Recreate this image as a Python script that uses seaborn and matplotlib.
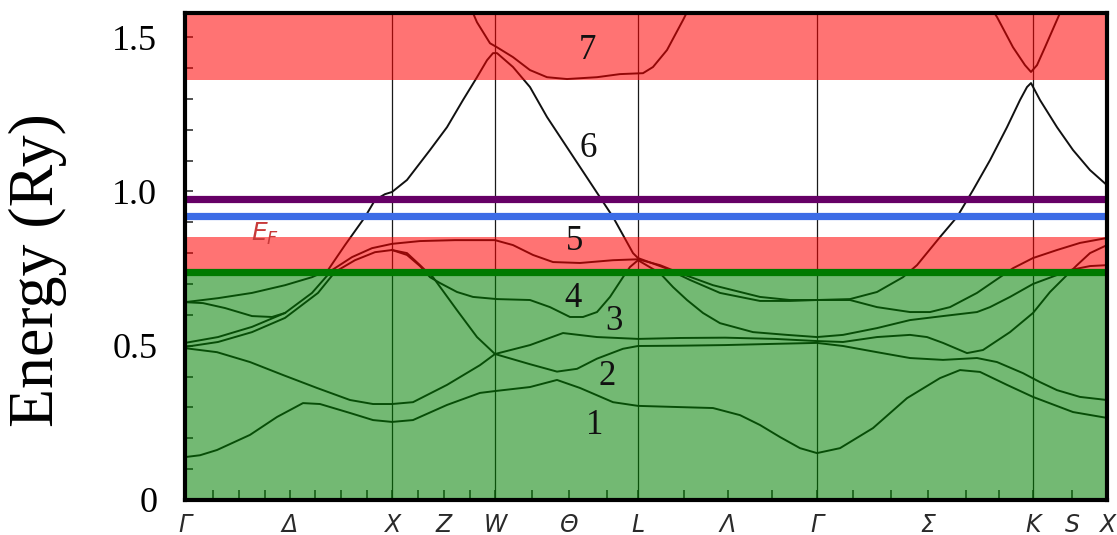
import numpy as np
import pandas as pd
import matplotlib
matplotlib.use("Agg")
import matplotlib.pyplot as plt
import seaborn as sns

# ---------------- data (k along path, E in Ry) ----------------
sym_k = [0.0, 1.05, 2.07, 2.59, 3.10, 3.84, 4.53, 5.43, 6.32, 7.43, 8.48, 8.87, 9.22]
sym_labels = ["Γ", "Δ", "X", "Z", "W", "Θ", "L", "Λ", "Γ", "Σ", "K", "S", "X"]
vline_k = [2.07, 3.10, 4.53, 6.32, 8.48]
minor_k = [0.28, 0.54, 0.80, 1.30, 1.56, 1.82, 2.33, 2.85, 3.47, 4.22, 4.99,
           5.87, 6.68, 7.06, 7.81, 8.14]

band1_k = [0, 0.15, 0.32, 0.65, 0.92, 1.18, 1.35, 1.65, 1.88, 2.07, 2.28, 2.62, 2.95,
           3.10, 3.45, 3.72, 3.95, 4.28, 4.53, 4.95, 5.28, 5.55, 5.75, 5.95, 6.15,
           6.32, 6.55, 6.88, 7.22, 7.55, 7.75, 7.95, 8.22, 8.48, 8.88, 9.22]
band1_E = [0.139, 0.145, 0.162, 0.211, 0.269, 0.314, 0.311, 0.282, 0.259, 0.253, 0.259,
           0.308, 0.347, 0.353, 0.366, 0.389, 0.363, 0.317, 0.305, 0.301, 0.298, 0.275,
           0.243, 0.204, 0.168, 0.152, 0.168, 0.233, 0.330, 0.395, 0.421, 0.415, 0.373,
           0.334, 0.285, 0.266]

band2_k = [0, 0.32, 0.65, 0.98, 1.32, 1.65, 1.88, 2.07, 2.28, 2.62, 2.95, 3.10, 3.45,
           3.72, 3.92, 4.12, 4.38, 4.53, 4.95, 5.40, 5.90, 6.32, 6.58, 6.92, 7.25, 7.58,
           7.92, 8.12, 8.38, 8.55, 8.72, 8.95, 9.22]
band2_E = [0.492, 0.479, 0.447, 0.405, 0.363, 0.324, 0.311, 0.311, 0.317, 0.373, 0.437,
           0.473, 0.440, 0.416, 0.425, 0.458, 0.490, 0.499, 0.500, 0.502, 0.506, 0.509,
           0.499, 0.479, 0.460, 0.454, 0.460, 0.447, 0.411, 0.382, 0.356, 0.334, 0.324]

band3_k = [0, 0.33, 0.67, 1.00, 1.27, 1.47, 1.67, 1.87, 2.07, 2.35, 2.70, 3.10, 3.28,
           3.48, 3.68, 3.95, 4.28, 4.53, 4.75, 4.95, 5.28, 5.75, 6.05, 6.32, 6.65, 6.92,
           7.18, 7.32, 7.55, 7.72, 7.88, 8.05, 8.22, 8.35, 8.42, 8.46, 8.55, 8.72, 8.88,
           9.05, 9.22]
band3_E = [0.509, 0.528, 0.561, 0.606, 0.671, 0.745, 0.787, 0.816, 0.830, 0.839, 0.842,
           0.842, 0.826, 0.794, 0.771, 0.768, 0.777, 0.780, 0.761, 0.735, 0.696, 0.658,
           0.648, 0.648, 0.651, 0.674, 0.722, 0.761, 0.852, 0.917, 1.004, 1.101, 1.208,
           1.296, 1.338, 1.351, 1.296, 1.208, 1.134, 1.069, 1.020]

band4_k = [0, 0.33, 0.67, 1.00, 1.33, 1.50, 1.70, 1.90, 2.07, 2.22, 2.35, 2.42, 2.48,
           2.72, 2.92, 3.10, 3.45, 3.78, 4.12, 4.53, 4.95, 5.40, 5.90, 6.32, 6.58, 6.92,
           7.25, 7.42, 7.58, 7.82, 7.98, 8.25, 8.48, 8.65, 8.82, 8.92, 9.05, 9.22]
band4_E = [0.496, 0.512, 0.544, 0.590, 0.671, 0.739, 0.777, 0.803, 0.810, 0.800, 0.761,
           0.739, 0.722, 0.615, 0.528, 0.473, 0.502, 0.541, 0.528, 0.522, 0.525, 0.526,
           0.522, 0.515, 0.512, 0.528, 0.535, 0.528, 0.509, 0.476, 0.486, 0.544, 0.606,
           0.674, 0.729, 0.761, 0.800, 0.826]

band5_k = [0, 0.18, 0.40, 0.67, 0.87, 1.00]
band5_E = [0.641, 0.638, 0.622, 0.596, 0.593, 0.606]

band6_k = [0, 0.33, 0.67, 1.00, 1.27, 1.43, 1.60, 1.80, 1.90, 2.00, 2.07, 2.22, 2.45,
           2.62, 2.78, 2.92, 3.02, 3.08, 3.12, 3.28, 3.45, 3.62, 3.95, 4.28, 4.48, 4.53,
           4.80, 5.05, 5.35, 5.75, 6.05, 6.32, 6.65, 6.92, 7.25, 7.45, 7.65, 7.92, 8.15,
           8.28, 8.48, 8.72, 8.95, 9.22]
band6_E = [0.641, 0.654, 0.671, 0.696, 0.722, 0.745, 0.826, 0.917, 0.972, 0.991, 0.998,
           1.037, 1.134, 1.208, 1.296, 1.370, 1.425, 1.448, 1.448, 1.403, 1.338, 1.241,
           1.079, 0.917, 0.800, 0.784, 0.752, 0.713, 0.671, 0.645, 0.645, 0.648, 0.648,
           0.625, 0.609, 0.609, 0.625, 0.671, 0.722, 0.751, 0.784, 0.810, 0.833, 0.849]

band7_k = [2.07, 2.22, 2.35, 2.45, 2.55, 2.72, 2.88, 3.12, 3.45, 3.65, 3.85, 3.98, 4.12,
           4.25, 4.38, 4.45, 4.53, 4.75, 4.88, 5.02, 5.18, 5.35, 5.68, 6.02, 6.32, 6.58,
           6.92, 7.25, 7.58, 7.92, 8.05, 8.25, 8.48, 8.72, 8.85, 9.05, 9.22]
band7_E = [0.810, 0.794, 0.758, 0.722, 0.703, 0.674, 0.658, 0.651, 0.648, 0.625, 0.593,
           0.593, 0.609, 0.658, 0.722, 0.755, 0.777, 0.735, 0.690, 0.648, 0.606, 0.573,
           0.544, 0.535, 0.528, 0.535, 0.557, 0.583, 0.596, 0.609, 0.625, 0.658, 0.700,
           0.729, 0.745, 0.758, 0.761]

band8_k = [2.85, 2.92, 3.05, 3.12, 3.28, 3.45, 3.62, 3.82, 4.12, 4.35, 4.58, 4.68, 4.82,
           4.98, 5.05]
band8_E = [1.600, 1.548, 1.480, 1.467, 1.435, 1.393, 1.370, 1.364, 1.370, 1.380, 1.383,
           1.403, 1.458, 1.555, 1.600]

band9_k = [8.05, 8.12, 8.28, 8.40, 8.46, 8.52, 8.60, 8.75, 8.80]
band9_E = [1.600, 1.565, 1.467, 1.409, 1.387, 1.409, 1.467, 1.578, 1.600]

band_numbers = ["7", "6", "5", "4", "3", "2", "1"]
number_k = [4.02, 4.03, 3.90, 3.88, 4.29, 4.22, 4.10]
number_E = [1.458, 1.140, 0.838, 0.654, 0.580, 0.400, 0.240]

red_bands = [(1.36, 1.62), (0.745, 0.852)]
green_fill = (0.0, 0.739)
level_lines = [0.975, 0.920, 0.739]
level_colors = ["#660066", "#3C6CE6", "#007A00"]

# ---------------- build long table ----------------
bands = [(band1_k, band1_E), (band2_k, band2_E), (band3_k, band3_E), (band4_k, band4_E),
         (band5_k, band5_E), (band6_k, band6_E), (band7_k, band7_E), (band8_k, band8_E),
         (band9_k, band9_E)]
frames = []
for i, (kk, ee) in enumerate(bands):
    frames.append(pd.DataFrame({"k": kk, "E": ee, "band": i}))
df = pd.concat(frames, ignore_index=True)

# ---------------- plot ----------------
fig = plt.figure(figsize=(11.17, 5.35), dpi=100)
ax = fig.add_axes([185 / 1117, 35 / 535, 922 / 1117, 487 / 535])
ax.set_axisbelow(True)

for kv in vline_k:
    ax.axvline(kv, color="#1a1a1a", lw=0.9, zorder=1)

sns.lineplot(data=df, x="k", y="E", units="band", estimator=None, sort=False,
             color="#111111", lw=1.4, ax=ax, zorder=1.2, legend=False)

for lo, hi in red_bands:
    ax.axhspan(lo, hi, color="#FF0000", alpha=0.55, lw=0, zorder=2)
ax.axhspan(green_fill[0], green_fill[1], color="#008000", alpha=0.55, lw=0, zorder=2)
for yv, c in zip(level_lines, level_colors):
    ax.axhline(yv, color=c, lw=5.2, zorder=2.2)

for t, kv, ev in zip(band_numbers, number_k, number_E):
    ax.text(kv, ev, t, fontsize=25, family="Liberation Serif", ha="center",
            va="center", color="#111111", zorder=5)
ax.text(0.80, 0.862, r"$E_F$", fontsize=18, color="#C83A3A", ha="center",
        va="center", zorder=5)

ax.set_xlim(0, 9.22)
ax.set_ylim(0, 1.578)

ax.set_yticks([0, 0.5, 1.0, 1.5])
ax.set_yticklabels(["0", "0.5", "1.0", "1.5"], family="Liberation Serif", fontsize=26)
ax.set_yticks(np.arange(0.1, 1.55, 0.1), minor=True)
ax.set_xticks(sym_k)
ax.set_xticklabels(sym_labels, fontsize=17, style="italic",
                   family="DejaVu Sans", color="#2a2a2a")
ax.set_xticks(minor_k, minor=True)
ax.tick_params(axis="y", which="both", direction="in", length=6, width=1.2,
               color="#333333", pad=20)
ax.tick_params(axis="x", which="both", direction="in", length=7, width=1.2,
               color="#333333", pad=9)

for s in ax.spines.values():
    s.set_linewidth(3)
    s.set_color("black")
    s.set_zorder(3)

ax.set_xlabel("")
ax.set_ylabel("")
fig.text(38 / 1117, 1 - 270 / 535, "Energy (Ry)", rotation=90, ha="center", va="center",
         family="Liberation Serif", fontsize=46)

fig.savefig("out.png", dpi=100)
